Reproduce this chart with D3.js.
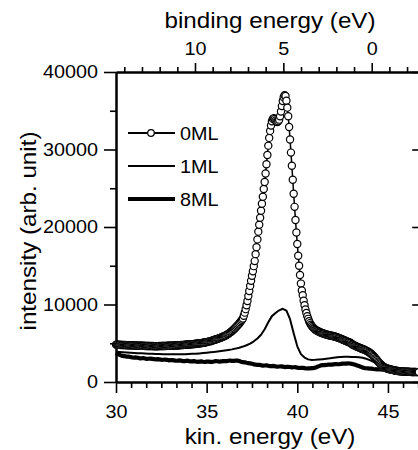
<!DOCTYPE html>
<html>
<head>
<meta charset="utf-8">
<script src="https://cdn.jsdelivr.net/npm/d3@7"></script>
<style>
    html, body { margin: 0; padding: 0; background: #fff; }
    svg { display: block; }
</style>
</head>
<body>
<div id="plot"></div>
<script>
// spectra are sampled on a regular kinetic energy grid starting at kinStart
const kinStart = 30;
const ml0Step = 0.05;
const ml0Intensity = [
    4820, 4800, 4810, 4790, 4800, 4780, 4790, 4770, 4780, 4760, 4770, 4760, 4750, 4760, 4740, 4750, 4740, 4730, 4740, 4730,
    4720, 4710, 4720, 4700, 4690, 4700, 4680, 4690, 4670, 4680, 4660, 4670, 4650, 4660, 4650, 4640, 4650, 4640, 4630, 4640,
    4630, 4640, 4620, 4630, 4620, 4630, 4620, 4630, 4640, 4630, 4640, 4650, 4640, 4650, 4660, 4650, 4660, 4670, 4680, 4670,
    4680, 4690, 4700, 4690, 4710, 4720, 4710, 4730, 4740, 4730, 4750, 4760, 4770, 4760, 4780, 4790, 4800, 4810, 4820, 4830,
    4840, 4850, 4860, 4870, 4880, 4890, 4900, 4910, 4930, 4940, 4960, 4970, 4990, 5000, 5020, 5040, 5060, 5080, 5100, 5130,
    5150, 5180, 5210, 5240, 5270, 5300, 5340, 5370, 5410, 5450, 5490, 5530, 5570, 5610, 5660, 5700, 5750, 5800, 5850, 5900,
    5950, 6010, 6080, 6150, 6230, 6310, 6400, 6490, 6590, 6690, 6800, 6910, 7030, 7150, 7280, 7410, 7550, 7700, 7860, 8030,
    8200, 8550, 8950, 9400, 9900, 10450, 11100, 11750, 12400, 13050, 13700, 14300, 14950, 15600, 16500, 17400, 18400, 19400, 20300, 21200,
    22100, 23000, 23900, 24900, 25800, 26900, 28100, 29300, 30500, 31500, 32400, 33100, 33650, 33950, 34050, 33950, 33750, 33600, 33550, 33650,
    33850, 34300, 34900, 35600, 36250, 36750, 37000, 36900, 36300, 35400, 34300, 32900, 31300, 29600, 27900, 26100, 24300, 22600, 20900, 19300,
    17800, 16300, 15000, 13800, 12700, 11800, 11200, 10500, 9900, 9350, 8900, 8500, 8150, 7850, 7600, 7400, 7230, 7080, 6950, 6840,
    6750, 6670, 6600, 6540, 6480, 6430, 6380, 6330, 6290, 6250, 6210, 6170, 6140, 6100, 6070, 6040, 6010, 5990, 5960, 5940,
    5900, 5870, 5840, 5800, 5760, 5720, 5680, 5630, 5580, 5530, 5480, 5430, 5380, 5330, 5280, 5230, 5180, 5130, 5080, 5030,
    4900, 4840, 4780, 4720, 4660, 4600, 4550, 4500, 4450, 4400, 4350, 4300, 4260, 4210, 4160, 4110, 4050, 3990, 3920, 3850,
    3770, 3680, 3580, 3470, 3350, 3220, 3080, 2940, 2800, 2660, 2530, 2400, 2280, 2170, 2070, 1980, 1900, 1840, 1790, 1750,
    1710, 1680, 1650, 1620, 1590, 1560, 1530, 1500, 1480, 1460, 1440, 1420, 1400, 1390, 1380, 1370, 1360, 1350, 1340, 1340,
    1330, 1330, 1320, 1320, 1310, 1310, 1300, 1300, 1300, 1290, 1290, 1290, 1280, 1280, 1280
];
const ml1Step = 0.2;
const ml1Intensity = [
    3900, 3870, 3830, 3800, 3770, 3750, 3720, 3700, 3680, 3660,
    3640, 3620, 3600, 3590, 3580, 3570, 3570, 3570, 3580, 3590,
    3610, 3630, 3660, 3690, 3730, 3780, 3830, 3880, 3940, 4000,
    4060, 4130, 4210, 4310, 4430, 4570, 4740, 4960, 5250, 5620,
    6100, 6800, 7700, 8500, 8900, 9250, 9450, 9200, 8100, 6300,
    4600, 3600, 3150, 2920, 2850, 2860, 2900, 2950, 3000, 3050,
    3120, 3180, 3230, 3260, 3250, 3230, 3210, 3180, 3120, 3000,
    2820, 2600, 2380, 2150, 1950, 1800, 1720, 1680, 1640, 1620,
    1600, 1590, 1570, 1560, 1550
];
const ml8Step = 0.1;
const ml8Intensity = [
    3750, 3580, 3500, 3400, 3350, 3330, 3280, 3270, 3230, 3160,
    3150, 3170, 3120, 3060, 3060, 3090, 3040, 2990, 3000, 3020,
    2980, 2940, 2930, 2960, 2920, 2860, 2870, 2900, 2860, 2800,
    2820, 2830, 2790, 2740, 2760, 2790, 2750, 2690, 2700, 2750,
    2720, 2650, 2660, 2690, 2650, 2600, 2630, 2660, 2610, 2580,
    2630, 2640, 2590, 2600, 2640, 2700, 2680, 2630, 2650, 2700,
    2710, 2690, 2740, 2780, 2720, 2730, 2770, 2760, 2700, 2620,
    2560, 2540, 2480, 2440, 2400, 2360, 2280, 2250, 2200, 2210,
    2170, 2110, 2130, 2140, 2090, 2040, 2060, 2070, 2020, 1970,
    2000, 2020, 1980, 1930, 1950, 1970, 1930, 1880, 1900, 1910,
    1860, 1810, 1830, 1840, 1790, 1740, 1760, 1750, 1780, 1800,
    1850, 1960, 2050, 2150, 2180, 2170, 2200, 2240, 2230, 2240,
    2280, 2320, 2300, 2290, 2330, 2390, 2380, 2360, 2400, 2390,
    2340, 2290, 2220, 2140, 2060, 1960, 1880, 1800, 1770, 1750,
    1720, 1720, 1680, 1650, 1640, 1640, 1610, 1580, 1580, 1590,
    1560, 1530, 1540, 1530, 1500, 1470, 1460, 1460, 1430, 1400,
    1400, 1400, 1380, 1350, 1350, 1350, 1330, 1310, 1320
];

const kinTicks = [30, 35, 40, 45];
const bindTicks = [10, 5, 0];
const intensityTicks = [0, 10000, 20000, 30000, 40000];
const legendLabels = ["0ML", "1ML", "8ML"];
const legendWidths = [2, 2, 4];

const fontFamily = "'Liberation Sans', Arial, Helvetica, sans-serif";
const stretch = 1.1;

const width = 418, height = 450;
const margin = { top: 72, left: 116 };
const plotWidth = 308.2, plotHeight = 310;

const toPoints = (values, step) => values.map((v, i) => ({ ke: kinStart + i * step, v: v }));

const svg = d3.select("#plot").append("svg")
    .attr("width", width)
    .attr("height", height)
    .attr("font-family", fontFamily);

svg.append("rect").attr("width", width).attr("height", height).attr("fill", "#fff");

const content = svg.append("g")
    .attr("transform", "translate(" + margin.left + "," + margin.top + ")");

const xKin = d3.scaleLinear().domain([30, 47]).range([0, plotWidth]);
const xBind = d3.scaleLinear().domain([14.47, -2.97]).range([0, plotWidth]);
const y = d3.scaleLinear().domain([0, 40000]).range([plotHeight, 0]);

function styleAxis(g, size) {
    g.attr("font-family", null).attr("font-size", null);
    g.select(".domain").attr("stroke", "#000").attr("stroke-width", 2);
    g.selectAll(".tick line").attr("stroke", "#000").attr("stroke-width", 1.6);
    g.selectAll(".tick text")
        .attr("fill", "#000")
        .attr("font-size", size)
        .each(function () {
            const t = d3.select(this);
            const x = +t.attr("x") || 0;
            t.attr("x", x / stretch).attr("transform", "scale(" + stretch + ",1)");
        });
    return g;
}

// minor ticks first, major ticks on top
const kinMinor = d3.range(30, 47.01, 5 / 6).filter(d => Math.abs(d - Math.round(d / 5) * 5) > 0.01);
const bindMinor = d3.range(-2, 15).filter(d => d % 5 !== 0);
const intMinor = [5000, 15000, 25000, 35000];
const fmt = d3.format("d");

content.append("g")
    .attr("transform", "translate(0," + plotHeight + ")")
    .call(d3.axisBottom(xKin).tickValues(kinMinor).tickSize(6).tickSizeOuter(0).tickFormat(""))
    .call(g => styleAxis(g, 18));
content.append("g")
    .attr("transform", "translate(0," + plotHeight + ")")
    .call(d3.axisBottom(xKin).tickValues(kinTicks).tickSize(11).tickSizeOuter(0).tickPadding(12).tickFormat(fmt))
    .call(g => styleAxis(g, 18));

content.append("g")
    .call(d3.axisTop(xBind).tickValues(bindMinor).tickSize(5).tickSizeOuter(0).tickFormat(""))
    .call(g => styleAxis(g, 18));
content.append("g")
    .call(d3.axisTop(xBind).tickValues(bindTicks).tickSize(9).tickSizeOuter(0).tickPadding(8).tickFormat(fmt))
    .call(g => styleAxis(g, 18));

content.append("g")
    .call(d3.axisLeft(y).tickValues(intMinor).tickSize(6).tickSizeOuter(0).tickFormat(""))
    .call(g => styleAxis(g, 18));
content.append("g")
    .call(d3.axisLeft(y).tickValues(intensityTicks).tickSize(12).tickSizeOuter(0).tickPadding(6).tickFormat(fmt))
    .call(g => styleAxis(g, 18));

content.append("g")
    .attr("transform", "translate(" + plotWidth + ",0)")
    .call(d3.axisRight(y).tickValues(intensityTicks).tickSize(-12).tickSizeOuter(0).tickFormat(""))
    .call(g => styleAxis(g, 18));

// axis titles
function title(text, tx, ty, rotate) {
    svg.append("text")
        .attr("text-anchor", "middle")
        .attr("font-size", 22)
        .attr("fill", "#000")
        .attr("transform", "translate(" + tx + "," + ty + ")" + (rotate ? " rotate(-90)" : "") + " scale(" + stretch + ",1)")
        .text(text);
}
title("binding energy (eV)", 270, 28, false);
title("kin. energy (eV)", 270, 444, false);
title("intensity (arb. unit)", 36, 231, true);

// spectra
const line = d3.line().x(d => xKin(d.ke)).y(d => y(d.v));

const ml0 = toPoints(ml0Intensity, ml0Step);
const ml1 = toPoints(ml1Intensity, ml1Step);
const ml8 = toPoints(ml8Intensity, ml8Step);

content.append("path").datum(ml8)
    .attr("d", line).attr("fill", "none").attr("stroke", "#000")
    .attr("stroke-width", 4.2).attr("stroke-linejoin", "round");
content.append("path").datum(ml1)
    .attr("d", line).attr("fill", "none").attr("stroke", "#000")
    .attr("stroke-width", 2).attr("stroke-linejoin", "round");
content.append("path").datum(ml0)
    .attr("d", line).attr("fill", "none").attr("stroke", "#000")
    .attr("stroke-width", 1.5);
content.append("g")
    .selectAll("circle")
    .data(ml0)
    .join("circle")
    .attr("cx", d => xKin(d.ke))
    .attr("cy", d => y(d.v))
    .attr("r", 3.6)
    .attr("fill", "#fff")
    .attr("stroke", "#000")
    .attr("stroke-width", 1.2);

// legend
const legend = svg.append("g").attr("transform", "translate(128,133)");
const rows = legend.selectAll("g")
    .data(legendLabels)
    .join("g")
    .attr("transform", (d, i) => "translate(0," + (i * 33) + ")");
rows.append("line")
    .attr("x1", 0).attr("x2", 47)
    .attr("stroke", "#000")
    .attr("stroke-width", (d, i) => legendWidths[i]);
rows.filter((d, i) => i === 0).append("circle")
    .attr("cx", 23).attr("r", 3.3)
    .attr("fill", "#fff").attr("stroke", "#000").attr("stroke-width", 1.2);
rows.append("text")
    .attr("font-size", 18)
    .attr("fill", "#000")
    .attr("transform", "translate(52,6.5) scale(" + stretch + ",1)")
    .text(d => d);
</script>
</body>
</html>
